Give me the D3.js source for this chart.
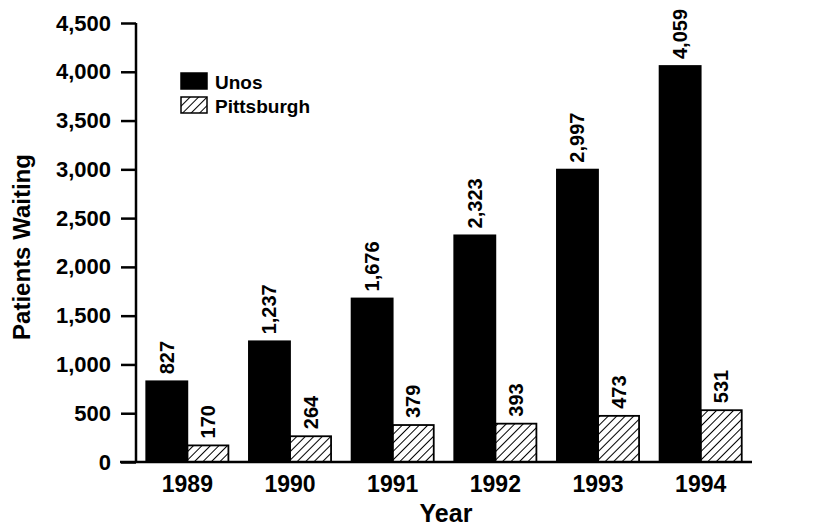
<!DOCTYPE html>
<html>
<head>
<meta charset="utf-8">
<script src="https://cdn.jsdelivr.net/npm/d3@7"></script>
<style>
  html, body { margin: 0; padding: 0; background: #fff; }
  svg { display: block; font-family: "Liberation Sans", Arial, Helvetica, sans-serif; font-weight: bold; }
</style>
</head>
<body>
<div id="chart"></div>
<script>
// values
const years = ["1989", "1990", "1991", "1992", "1993", "1994"];
const unos = [827, 1237, 1676, 2323, 2997, 4059];
const pittsburgh = [170, 264, 379, 393, 473, 531];
const seriesNames = ["Unos", "Pittsburgh"];
const yTicks = [0, 500, 1000, 1500, 2000, 2500, 3000, 3500, 4000, 4500];

const width = 815, height = 528;

const svg = d3.select("#chart").append("svg")
    .attr("width", width)
    .attr("height", height);

// diagonal hatch for pittsburgh
const defs = svg.append("defs");
defs.append("pattern")
    .attr("id", "hatch")
    .attr("patternUnits", "userSpaceOnUse")
    .attr("width", 6)
    .attr("height", 6)
    .attr("patternTransform", "rotate(45)")
  .append("line")
    .attr("x1", 0).attr("y1", 0)
    .attr("x2", 0).attr("y2", 6)
    .attr("stroke", "#000")
    .attr("stroke-width", 2);

const x = d3.scaleBand()
    .domain(years)
    .range([136, 752])
    .paddingInner(0.2)
    .paddingOuter(0.1);

const xs = d3.scaleBand()
    .domain(seriesNames)
    .range([0, x.bandwidth()]);

const y = d3.scaleLinear()
    .domain([0, 4500])
    .range([462, 23]);

const data = years.map((yr, i) => ({ year: yr, values: [
    { name: "Unos", value: unos[i] },
    { name: "Pittsburgh", value: pittsburgh[i] }
]}));

// bars
const groups = svg.append("g").selectAll("g")
    .data(data)
    .join("g")
    .attr("transform", d => `translate(${x(d.year)},0)`);

groups.selectAll("rect")
    .data(d => d.values)
    .join("rect")
    .attr("x", d => xs(d.name))
    .attr("y", d => y(d.value))
    .attr("width", xs.bandwidth())
    .attr("height", d => y(0) - y(d.value))
    .attr("fill", d => d.name === "Unos" ? "#000" : "url(#hatch)")
    .attr("stroke", "#000")
    .attr("stroke-width", 1.8);

// value labels, rotated
groups.selectAll("text")
    .data(d => d.values)
    .join("text")
    .attr("transform", d => `translate(${xs(d.name) + xs.bandwidth() / 2 + 7},${y(d.value) - 7}) rotate(-90)`)
    .attr("font-size", 20)
    .attr("text-anchor", "start")
    .text(d => d3.format(",")(d.value));

// y axis
const yAxis = d3.axisLeft(y)
    .tickValues(yTicks)
    .tickSize(15)
    .tickPadding(10)
    .tickFormat(d3.format(","));

const yg = svg.append("g")
    .attr("transform", "translate(136,0)")
    .call(yAxis);
yg.select(".domain").attr("stroke-width", 2.5).attr("d", `M0,${y(4500)}V${y(0)}`);
yg.selectAll(".tick line").attr("stroke-width", 2.5);
yg.selectAll(".tick text")
    .attr("font-size", 22)
    .attr("font-weight", "bold")
    .attr("fill", "#000")
    .attr("font-family", "Liberation Sans, Arial, sans-serif");

// x axis
const xAxis = d3.axisBottom(x).tickSize(0).tickPadding(14);
const xg = svg.append("g")
    .attr("transform", `translate(0,${y(0)})`)
    .call(xAxis);
xg.select(".domain").attr("stroke-width", 2.5).attr("d", "M120,0H752");
xg.selectAll(".tick text")
    .attr("font-size", 23)
    .attr("font-weight", "bold")
    .attr("fill", "#000")
    .attr("font-family", "Liberation Sans, Arial, sans-serif");

// axis titles
svg.append("text")
    .attr("transform", "translate(30,247) rotate(-90)")
    .attr("text-anchor", "middle")
    .attr("font-size", 24)
    .text("Patients Waiting");

svg.append("text")
    .attr("x", 446)
    .attr("y", 522)
    .attr("text-anchor", "middle")
    .attr("font-size", 25)
    .text("Year");

// legend
const legend = svg.append("g").attr("transform", "translate(181,73)");
seriesNames.forEach((name, i) => {
    const row = legend.append("g").attr("transform", `translate(0,${i * 24})`);
    row.append("rect")
        .attr("width", 26)
        .attr("height", 16)
        .attr("fill", i === 0 ? "#000" : "url(#hatch)")
        .attr("stroke", "#000")
        .attr("stroke-width", 1.5);
    row.append("text")
        .attr("x", 34)
        .attr("y", 16)
        .attr("font-size", 19)
        .text(name);
});
</script>
</body>
</html>
